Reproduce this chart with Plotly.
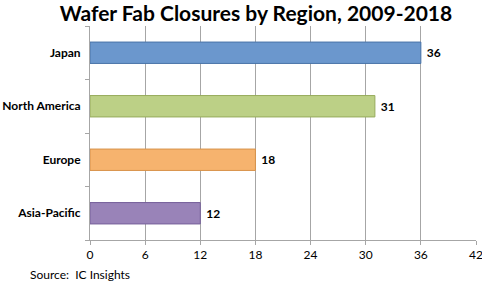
import plotly.graph_objects as go

regions = ["Japan", "North America", "Europe", "Asia-Pacific"]
closures = [36, 31, 18, 12]
bar_colors = ["#6b97cd", "#bcd086", "#f6b36e", "#9983b8"]
line_colors = ["#4a74a8", "#97ac5c", "#d8924a", "#76609a"]
x_ticks = [0, 6, 12, 18, 24, 30, 36, 42]

FONT = "Lato, Open Sans, sans-serif"

fig = go.Figure()
fig.add_trace(go.Bar(
    y=regions, x=closures, orientation="h",
    marker=dict(color=bar_colors, line=dict(color=line_colors, width=1)),
    width=0.4,
    text=[" " + str(v) for v in closures], textposition="outside",
    textfont=dict(family=FONT, size=12, color="#000000", weight="bold"),
    cliponaxis=False,
))

fig.update_layout(
    width=482, height=282,
    margin=dict(l=90, r=6, t=26, b=42, autoexpand=False),
    paper_bgcolor="white", plot_bgcolor="white",
    showlegend=False,
    title=dict(text="<b>Wafer Fab Closures by Region, 2009-2018</b>",
               font=dict(family=FONT, size=21, color="#000000"),
               x=0.531, xanchor="center", y=0.952, yanchor="middle"),
    xaxis=dict(range=[0, 42], tickvals=x_ticks, showgrid=True, gridcolor="#a6a6a6", gridwidth=1,
               showline=True, linecolor="#a6a6a6", ticks="outside", ticklen=4, tickcolor="#a6a6a6",
               tickfont=dict(family=FONT, size=12, color="#000000"),
               ticklabeloverflow="allow", automargin=False,
               zeroline=False, fixedrange=True),
    yaxis=dict(categoryorder="array", categoryarray=regions[::-1],
               showline=True, linecolor="#a6a6a6", ticks="outside", ticklen=4, tickcolor="#a6a6a6",
               tickson="boundaries", showgrid=False, automargin=False,
               tickfont=dict(family=FONT, size=12, color="#000000", weight="bold"),
               ticklabelstandoff=6),
    bargap=0.6,
)

fig.add_annotation(text="Source:  IC Insights", xref="paper", yref="paper",
                   x=-0.16, y=-0.163, xanchor="left", yanchor="middle", showarrow=False,
                   font=dict(family=FONT, size=12, color="#000000"))

fig.write_html("out.html")
